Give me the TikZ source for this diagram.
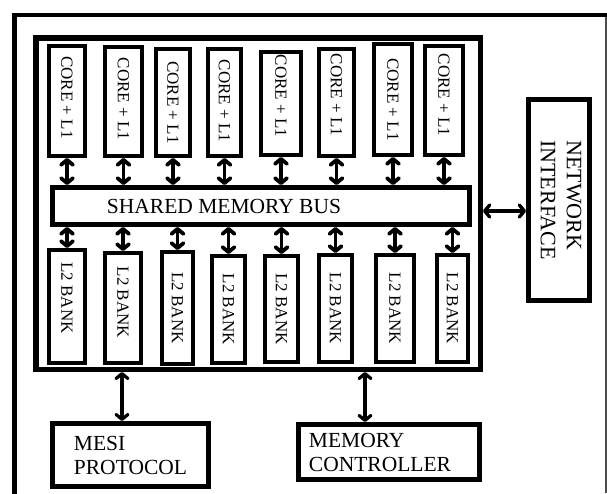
\documentclass[tikz,border=0pt]{standalone}
\usepackage{fontspec}
\setmainfont{Liberation Serif}
\usepackage{graphicx}
\usetikzlibrary{arrows.meta}
\newcommand{\padr}[1]{\hspace*{#1}\null}
\begin{document}
\begin{tikzpicture}[x=1pt,y=-1pt,
  box/.style={draw, line width=4pt, inner sep=0pt},
  bigbox/.style={draw, line width=5pt, inner sep=0pt},
  biarrow/.style={{Straight Barb[length=5pt,width=12pt,round]}-{Straight Barb[length=5pt,width=12pt,round]}, line width=3.8pt},
  smalltxt/.style={font=\fontsize{17}{20}\selectfont},
  bigtxt/.style={font=\fontsize{21.5}{24}\selectfont, align=left}]
\useasboundingbox (0,0) rectangle (607,493);
% outer frame
\draw[line width=4.6pt] (14.3,496) -- (14.3,15) -- (610,15);
\draw[black!70, line width=1.3pt] (606,17) -- (606,493);
% inner chip frame
\node[draw, line width=5.5pt, inner sep=0pt, minimum width=444.5pt, minimum height=331.5pt] (chip) at (258,203.5) {};
% cores
\foreach \i/\cx/\cy/\w/\h/\s in {1/67/101/36/110/7, 2/123.5/101.5/37/109/5, 3/173/102.5/34/107/0, 4/224.5/102.5/33/107/3, 5/281/103.5/40/103/15, 6/336.5/102.5/35/107/15, 7/393/99.5/38/111/0, 8/444/100.5/38/109/11}
  \node[box, smalltxt, minimum width=\w pt, minimum height=\h pt] (c\i) at (\cx,\cy) {\rotatebox{-90}{CORE + L1\padr{\s pt}}};
% L2 banks
\foreach \i/\cx/\cy/\w/\h/\s in {1/67/306.5/36/113/17, 2/123/308/36/110/11, 3/177.5/308/31/112/0, 4/228.5/309.5/33/107/0, 5/281.5/309/33/106/0, 6/335.5/308.5/33/107/0, 7/395/308.5/38/107/0, 8/452.5/308.5/31/107/0}
  \node[box, smalltxt, minimum width=\w pt, minimum height=\h pt] (l\i) at (\cx,\cy) {\rotatebox{-90}{L2 BANK\padr{\s pt}}};
% bus
\node[bigbox, font=\fontsize{21.5}{24}\selectfont, minimum width=417pt, minimum height=37pt] (bus) at (261,206) {SHARED MEMORY BUS\padr{74pt}};
% network interface
\node[bigbox, minimum width=61pt, minimum height=201pt] (ni) at (559,200) {\rotatebox{-90}{\fontsize{22}{26}\selectfont\begin{tabular}{@{}l@{}}NETWORK\\INTERFACE\end{tabular}}};
% MESI protocol
\node[bigbox, bigtxt, minimum width=156pt, minimum height=63pt] (mesi) at (130.5,455) {MESI\\PROTOCOL};
% memory controller
\node[bigbox, bigtxt, minimum width=181pt, minimum height=55pt] (mc) at (389,452) {MEMORY\\CONTROLLER\padr{18pt}};
% connectors
\foreach \i in {1,...,8} {
  \draw[biarrow] (c\i.south) -- (c\i.south |- bus.north);
  \draw[biarrow] (bus.south -| l\i.north) -- (l\i.north);
}
\draw[biarrow, line width=3.4pt] (chip.east |- 0,211) -- (ni.west |- 0,211);
\draw[biarrow, line width=3.2pt] (chip.south -| 122,0) -- (mesi.north -| 122,0);
\draw[biarrow, line width=3.2pt] (chip.south -| 365,0) -- (mc.north -| 365,0);
\end{tikzpicture}
\end{document}
